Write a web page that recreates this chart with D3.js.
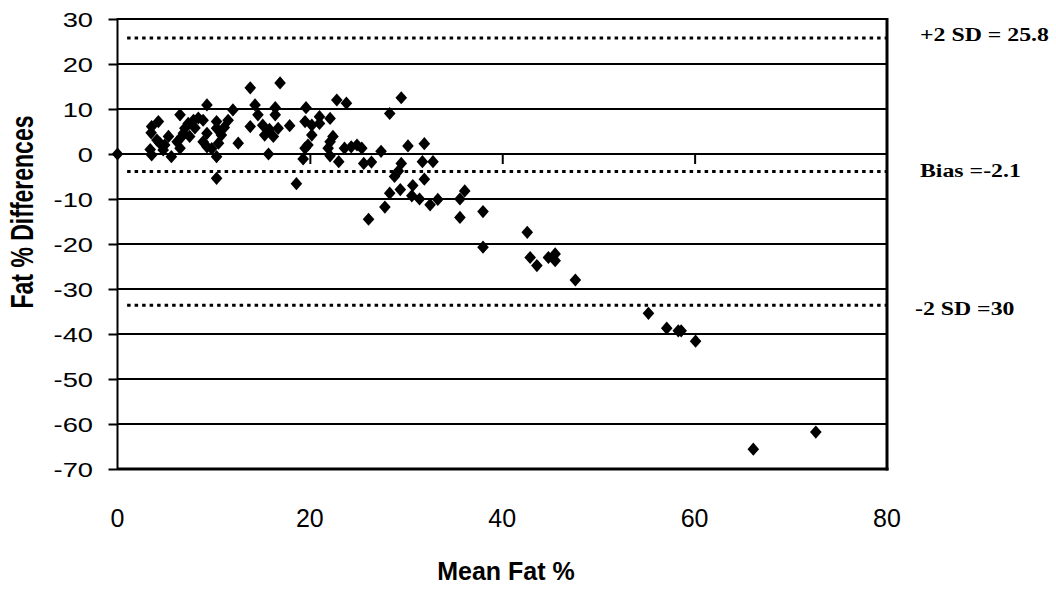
<!DOCTYPE html>
<html>
<head>
<meta charset="utf-8">
<script src="https://cdn.jsdelivr.net/npm/d3@7"></script>
<style>
  body { margin: 0; background: #fff; }
  svg { display: block; }
</style>
</head>
<body>
<div id="chart"></div>
<script>
// Bland-Altman style data
var meanFat = [0, 3.4, 3.55, 4.25, 3.5, 3.55, 4.4, 4.1, 4.75, 5.3, 4.9, 5.6, 6.2, 6.5, 6.5, 6.7, 6.85, 7.0, 7.35, 7.5,
  7.9, 8.05, 8.4, 8.9, 8.9, 9.3, 9.3, 9.3, 9.8, 10.3, 10.3, 10.8, 10.5, 10.3, 10.3, 11.1, 11.5, 12.0, 12.55, 13.8,
  14.3, 14.6, 13.8, 15.1, 15.8, 15.3, 16.2, 16.7, 16.4, 16.4, 16.9, 17.9, 15.7, 18.6, 19.6, 19.5, 20.2, 20.2, 19.8, 19.5,
  19.3, 21.0, 21.0, 22.1, 22.8, 23.8, 22.4, 22.1, 21.9, 22.1, 23.0, 23.6, 24.3, 24.9, 25.4, 25.6, 26.4, 27.4, 28.3, 29.5,
  26.1, 27.8, 28.3, 29.4, 28.8, 29.2, 29.5, 30.2, 31.9, 31.7, 32.8, 31.9, 30.7, 30.6, 31.4, 32.5, 33.3, 35.6, 36.1, 35.6,
  38.0, 38.0, 42.6, 42.9, 43.6, 44.8, 45.5, 45.5, 47.6, 55.2, 57.1, 58.3, 58.6, 60.1, 66.1, 72.6];
var fatDiff = [0, 1.0, 6.1, 7.2, 4.7, -0.2, 2.4, 3.1, 0.9, 3.9, 2.0, -0.6, 2.7, 1.3, 8.7, 3.9, 4.6, 5.7, 6.8, 3.9,
  7.5, 5.8, 8.0, 7.5, 2.7, 10.9, 4.6, 1.6, 1.2, 7.2, 5.7, 4.2, 2.4, -0.6, -5.4, 5.9, 7.5, 9.8, 2.4, 14.7,
  10.9, 8.7, 6.1, 6.4, 5.5, 4.2, 3.9, 5.7, 10.3, 8.7, 15.8, 6.3, 0.0, -6.6, 10.3, 7.2, 6.4, 4.2, 2.0, 1.3,
  -1.1, 8.3, 6.8, 7.9, 12.0, 11.3, 3.9, 2.7, 1.3, -0.4, -1.7, 1.3, 1.6, 2.0, 1.3, -2.1, -1.8, 0.6, 9.0, 12.5,
  -14.5, -11.8, -8.7, -7.9, -5.0, -3.8, -2.1, 1.8, 2.3, -1.7, -1.7, -5.6, -7.0, -9.3, -10.0, -11.3, -10.1, -10.0, -8.2, -14.1,
  -12.8, -20.7, -17.4, -23.0, -24.8, -23.0, -22.2, -23.7, -28.0, -35.4, -38.7, -39.3, -39.3, -41.6, -65.6, -61.8];

var yTicks = [-70, -60, -50, -40, -30, -20, -10, 0, 10, 20, 30];
var xTicks = [0, 20, 40, 60, 80];
var xAxisTicks = [20, 40, 60];
// limit lines, drawn where they sit in the picture
var limitValues = [25.8, -3.9, -33.6];
var limitLabels = ["+2 SD = 25.8", "Bias =-2.1", "-2 SD =30"];
var limitLabelY = [40.5, 177, 315];

var w = 1056;
var h = 591;

var svg = d3.select("#chart")
  .append("svg")
  .attr("width", w)
  .attr("height", h);

var xScale = d3.scaleLinear().domain([0, 80]).range([117.5, 887]);
var yScale = d3.scaleLinear().domain([-70, 30]).range([469, 19]);

// horizontal gridlines
svg.append("g")
  .selectAll("line")
  .data(yTicks.filter(function(d) { return d > -70; }))
  .enter()
  .append("line")
  .attr("x1", xScale(0))
  .attr("x2", xScale(80))
  .attr("y1", function(d) { return yScale(d); })
  .attr("y2", function(d) { return yScale(d); })
  .attr("stroke", "#000")
  .attr("stroke-width", 2);

// dotted limit lines
svg.append("g")
  .selectAll("line")
  .data(limitValues)
  .enter()
  .append("line")
  .attr("x1", xScale(1))
  .attr("x2", xScale(80))
  .attr("y1", function(d) { return yScale(d); })
  .attr("y2", function(d) { return yScale(d); })
  .attr("stroke", "#000")
  .attr("stroke-width", 3)
  .attr("stroke-dasharray", "3.5,4");

// right and bottom border
svg.append("line")
  .attr("x1", xScale(80)).attr("x2", xScale(80))
  .attr("y1", yScale(30) - 1).attr("y2", yScale(-70) + 1.5)
  .attr("stroke", "#000").attr("stroke-width", 3);
svg.append("line")
  .attr("x1", xScale(0)).attr("x2", xScale(80) + 1.5)
  .attr("y1", yScale(-70)).attr("y2", yScale(-70))
  .attr("stroke", "#000").attr("stroke-width", 3);

// Y axis (plain hyphen for negatives, like the original)
var yAxis = d3.axisLeft(yScale)
  .tickValues(yTicks)
  .tickSize(9)
  .tickFormat(function(d) { return String(d); });

var yG = svg.append("g")
  .attr("transform", "translate(" + xScale(0) + ",0)")
  .call(yAxis);
yG.select(".domain").attr("stroke-width", 2).attr("d", "M0," + (yScale(30) - 1) + "V" + (yScale(-70) + 1));
yG.selectAll(".tick line").attr("stroke-width", 2);
yG.selectAll(".tick text")
  .attr("x", 0)
  .attr("dy", null)
  .attr("transform", "translate(-24.5,7.5) scale(1.3,1)")
  .attr("text-anchor", "end")
  .style("font-family", "'Liberation Sans', Arial, sans-serif")
  .style("font-size", "21px")
  .attr("fill", "#000");

// X axis ticks sit on the zero line
var xAxis = d3.axisBottom(xScale)
  .tickValues(xAxisTicks)
  .tickSize(10)
  .tickFormat("");
var xG = svg.append("g")
  .attr("transform", "translate(0," + yScale(0) + ")")
  .call(xAxis);
xG.select(".domain").remove();
xG.selectAll(".tick line").attr("stroke-width", 2);

// X tick labels at the bottom
svg.append("g")
  .selectAll("text")
  .data(xTicks)
  .enter()
  .append("text")
  .attr("x", function(d) { return xScale(d); })
  .attr("y", 527)
  .attr("text-anchor", "middle")
  .style("font-family", "'Liberation Sans', Arial, sans-serif")
  .style("font-size", "25px")
  .text(function(d) { return d; });

// axis titles
svg.append("text")
  .attr("x", 506)
  .attr("y", 580)
  .attr("text-anchor", "middle")
  .style("font-family", "'Liberation Sans', Arial, sans-serif")
  .style("font-weight", "bold")
  .style("font-size", "25px")
  .text("Mean Fat %");

svg.append("text")
  .attr("transform", "translate(33,212) scale(1.4,1) rotate(-90)")
  .attr("text-anchor", "middle")
  .style("font-family", "'Liberation Sans', Arial, sans-serif")
  .style("font-weight", "bold")
  .style("font-size", "23px")
  .text("Fat % Differences");

// limit labels on the right
svg.append("g")
  .selectAll("text")
  .data(limitLabels)
  .enter()
  .append("text")
  .attr("transform", function(d, i) {
    var x0 = i == 2 ? 915 : 920;
    return "translate(" + x0 + "," + limitLabelY[i] + ") scale(1.22,1)";
  })
  .style("font-family", "'Liberation Serif', 'Times New Roman', serif")
  .style("font-weight", "bold")
  .style("font-size", "19.5px")
  .text(function(d) { return d; });

// diamonds
var points = meanFat.map(function(d, i) { return { x: d, y: fatDiff[i] }; });
svg.append("g")
  .selectAll("path")
  .data(points)
  .enter()
  .append("path")
  .attr("d", "M0,-6.6L5.8,0L0,6.6L-5.8,0Z")
  .attr("transform", function(d) {
    return "translate(" + xScale(d.x) + "," + yScale(d.y) + ")";
  })
  .attr("fill", "#000");
</script>
</body>
</html>
